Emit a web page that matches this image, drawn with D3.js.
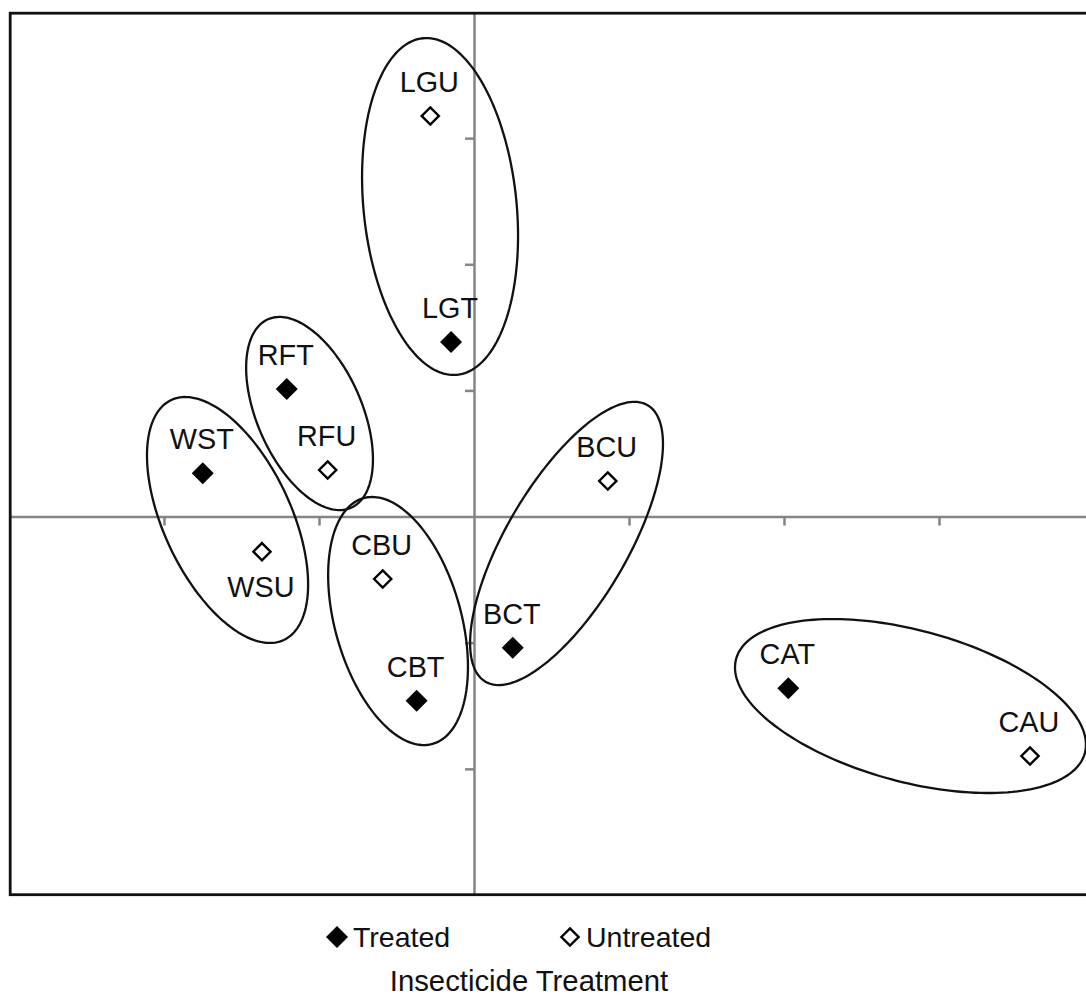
<!DOCTYPE html>
<html>
<head>
<meta charset="utf-8">
<script src="https://cdn.jsdelivr.net/npm/d3@7"></script>
<style>
  html, body { margin: 0; padding: 0; background: #fff; }
  svg text { font-family: "Liberation Sans", Arial, sans-serif; fill: #111; }
</style>
</head>
<body>
<svg id="chart" width="1086" height="997"></svg>
<script>
// Ordination scores for each site x treatment combination
const labels    = ["LGU", "LGT", "RFT", "RFU", "WST", "WSU", "CBU", "CBT", "BCU", "BCT", "CAT", "CAU"];
const scoreX    = [-0.282, -0.148, -1.208, -0.944, -1.750, -1.368, -0.589, -0.370, 0.863, 0.250, 2.028, 3.587];
const scoreY    = [3.176, 1.384, 1.012, 0.369, 0.343, -0.278, -0.495, -1.460, 0.282, -1.039, -1.361, -1.898];
const treatment = ["Untreated", "Treated", "Treated", "Untreated", "Treated", "Untreated",
                   "Untreated", "Treated", "Untreated", "Treated", "Treated", "Untreated"];
const labelBelow = ["WSU"];

// Site groupings: ellipse centre and its two conjugate semi-axes, in score units
const groupNames   = ["LG", "RF", "WS", "CB", "BC", "CA"];
const groupCenters = [[-0.219, 2.458], [-1.061, 0.817], [-1.590, -0.027], [-0.490, -0.828], [0.597, -0.213], [2.816, -1.502]];
const groupAxisA   = [[0.110, -1.334], [0.268, -0.747], [0.363, -0.951], [0.223, -0.974], [0.523, 1.096], [1.125, -0.373]];
const groupAxisB   = [[-0.491, -0.061], [-0.309, -0.168], [-0.372, -0.214], [-0.392, -0.136], [0.337, -0.243], [-0.127, -0.580]];

const xDomain = [-3, 4];
const yDomain = [-3, 4];
const xTicks = [-2, -1, 1, 2, 3];
const yTicks = [-2, -1, 1, 2, 3];
const legendItems = ["Treated", "Untreated"];
const legendTitle = "Insecticide Treatment";

const svg = d3.select("#chart");
const x = d3.scaleLinear().domain(xDomain).range([9, 1094]);
const y = d3.scaleLinear().domain(yDomain).range([895, 12]);

const diamond = r => `M0,${-r}L${r},0L0,${r}L${-r},0Z`;

// zero axes with tick marks
const axisColor = "#858585";
const gx = svg.append("g")
  .attr("transform", `translate(0,${y(0)})`)
  .call(d3.axisBottom(x).tickValues(xTicks).tickSizeInner(9).tickSizeOuter(0).tickFormat(""));
const gy = svg.append("g")
  .attr("transform", `translate(${x(0)},0)`)
  .call(d3.axisLeft(y).tickValues(yTicks).tickSizeInner(9).tickSizeOuter(0).tickFormat(""));
[gx, gy].forEach(g => {
  g.selectAll("path.domain").attr("stroke", axisColor).attr("stroke-width", 2.5);
  g.selectAll(".tick line").attr("stroke", axisColor).attr("stroke-width", 2.5);
});

// plot frame
svg.append("rect")
  .attr("x", x(xDomain[0]) + 1.2).attr("y", y(yDomain[1]) + 1.2)
  .attr("width", x(xDomain[1]) - x(xDomain[0])).attr("height", y(yDomain[0]) - y(yDomain[1]) - 1.5)
  .attr("fill", "none").attr("stroke", "#111").attr("stroke-width", 2.8);

// group ellipses, traced in score space and projected through the scales
const ellipseLine = d3.line().x(d => x(d[0])).y(d => y(d[1])).curve(d3.curveLinearClosed);
const steps = d3.range(0, 360, 2).map(a => a * Math.PI / 180);
svg.append("g").selectAll("path")
  .data(groupNames.map((g, i) => ({ c: groupCenters[i], a: groupAxisA[i], b: groupAxisB[i] })))
  .join("path")
  .attr("d", e => ellipseLine(steps.map(t => [
    e.c[0] + Math.cos(t) * e.a[0] + Math.sin(t) * e.b[0],
    e.c[1] + Math.cos(t) * e.a[1] + Math.sin(t) * e.b[1]
  ])))
  .attr("fill", "none").attr("stroke", "#111").attr("stroke-width", 2.3);

// points
const pts = labels.map((l, i) => ({ label: l, x: scoreX[i], y: scoreY[i], t: treatment[i] }));
const drawMarker = (sel, t) => {
  if (t === "Treated") sel.attr("d", diamond(11)).attr("fill", "#000").attr("stroke", "none");
  else sel.attr("d", diamond(8.6)).attr("fill", "#fff").attr("stroke", "#000").attr("stroke-width", 2.4);
};
svg.append("g").selectAll("path")
  .data(pts).join("path")
  .attr("transform", d => `translate(${x(d.x)},${y(d.y)})`)
  .each(function (d) { drawMarker(d3.select(this), d.t); });

svg.append("g").selectAll("text")
  .data(pts).join("text")
  .attr("x", d => x(d.x) - 1)
  .attr("y", d => y(d.y) + (labelBelow.includes(d.label) ? 45 : -24))
  .attr("text-anchor", "middle")
  .attr("font-size", 28.8)
  .text(d => d.label);

// legend
const legend = svg.append("g");
const legendX = [337, 570];
legendItems.forEach((item, i) => {
  const g = legend.append("g").attr("transform", `translate(${legendX[i]},937)`);
  drawMarker(g.append("path"), item);
  g.append("text").attr("x", 16).attr("y", 9.5).attr("font-size", 28.5).text(item);
});
legend.append("text")
  .attr("x", 529).attr("y", 991)
  .attr("text-anchor", "middle").attr("font-size", 29.3)
  .text(legendTitle);
</script>
</body>
</html>
